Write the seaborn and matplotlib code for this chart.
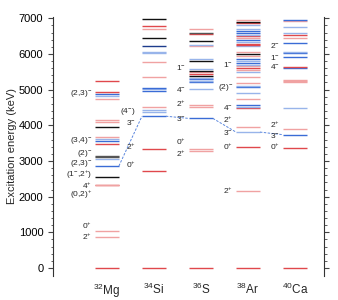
import numpy as np
import pandas as pd
import matplotlib.pyplot as plt
import seaborn as sns

# nuclei on the x axis
nuclei = ['$^{32}$Mg', '$^{34}$Si', '$^{36}$S', '$^{38}$Ar', '$^{40}$Ca']

# level energies (keV) and colour class per nucleus
mg32_E = [0, 878, 1050, 2318, 2328, 2551, 2860, 3046, 3100, 3150, 3480, 3550,
          3630, 3682, 3945, 4100, 4150, 4730, 4830, 4880, 4935, 5243]
mg32_c = ['r', 'lr', 'lr', 'r', 'lr', 'k', 'b', 'lb', 'g', 'g', 'r', 'b',
          'lb', 'lr', 'k', 'lr', 'lr', 'lr', 'lb', 'b', 'r', 'r']

si34_E = [0, 2711, 3330, 4255, 4379, 4420, 4510, 4975, 5011, 5050, 5350, 5785,
          6020, 6050, 6233, 6445, 6693, 6790, 6975]
si34_c = ['r', 'r', 'r', 'b', 'lb', 'lb', 'lr', 'b', 'lb', 'b', 'lr', 'lr',
          'lb', 'lb', 'db', 'k', 'lr', 'r', 'k']

s36_E = [0, 3290, 3346, 4193, 4523, 4575, 5021, 5206, 5243, 5290, 5337, 5384,
         5431, 5496, 5533, 5579, 5795, 5850, 6215, 6245, 6376, 6550, 6580, 6702]
s36_c = ['r', 'lr', 'lr', 'b', 'lr', 'lr', 'lb', 'b', 'lb', 'b', 'lb', 'k',
         'r', 'lr', 'k', 'lb', 'k', 'lb', 'lr', 'lb', 'k', 'r', 'g', 'lr']

ar38_E = [0, 2168, 3384, 3810, 3945, 4487, 4523, 4580, 4730, 4898, 5084, 5112,
          5178, 5365, 5504, 5552, 5600, 5656, 5701, 5757, 5813, 5869, 5953,
          6001, 6065, 6217, 6253, 6289, 6346, 6401, 6449, 6505, 6542, 6598,
          6637, 6710, 6814, 6861, 6906, 6962]
ar38_c = ['r', 'lr', 'r', 'lb', 'lr', 'r', 'lb', 'b', 'lr', 'lb', 'b', 'lb',
          'lr', 'lr', 'lb', 'lr', 'r', 'lr', 'lb', 'b', 'lb', 'b', 'lr',
          'k', 'lr', 'lb', 'r', 'r', 'lb', 'b', 'lr', 'r', 'lb', 'b',
          'b', 'lb', 'lb', 'r', 'k', 'lr']

ca40_E = [0, 3353, 3737, 3904, 4491, 5224, 5249, 5279, 5613, 5629, 5908, 6030,
          6065, 6300, 6442, 6543, 6599, 6768, 6930, 6950]
ca40_c = ['r', 'r', 'b', 'lr', 'lb', 'lr', 'lr', 'lr', 'b', 'r', 'b', 'b',
          'lb', 'b', 'lr', 'r', 'lb', 'lb', 'lr', 'b']

# 3- states joined by the dashed line
three_minus = [2860, 4255, 4193, 3810, 3737]

# spin-parity labels and the energy they sit at
mg32_lab = ['(2,3)$^{-}$', '(3,4)$^{-}$', '(2)$^{-}$', '(2,3)$^{-}$',
            '(1$^{-}$,2$^{+}$)', '4$^{+}$', '(0,2)$^{+}$', '0$^{+}$', '2$^{+}$']
mg32_labE = [4880, 3570, 3200, 2920, 2625, 2315, 2040, 1178, 878]
si34_lab = ['(4$^{-}$)', '3$^{-}$', '2$^{+}$', '0$^{+}$']
si34_labE = [4394, 4085, 3402, 2888]
s36_lab = ['1$^{-}$', '4$^{-}$', '2$^{+}$', '3$^{-}$', '0$^{+}$', '2$^{+}$']
s36_labE = [5618, 4991, 4599, 4197, 3541, 3190]
ar38_lab = ['1$^{-}$', '(2)$^{-}$', '4$^{-}$', '2$^{+}$', '3$^{-}$', '0$^{+}$', '2$^{+}$']
ar38_labE = [5710, 5066, 4506, 4150, 3795, 3384, 2159]
ca40_lab = ['2$^{-}$', '1$^{-}$', '4$^{-}$', '2$^{+}$', '3$^{-}$', '0$^{+}$']
ca40_labE = [6225, 5907, 5645, 4001, 3701, 3402]

palette = {'r': '#e0484c', 'lr': '#f0a2a2', 'b': '#3a6cd6', 'lb': '#98b4ea',
           'k': '#111111', 'g': '#555555', 'db': '#1d3c8c'}

levels = pd.concat([
    pd.DataFrame({'x': i, 'E': E, 'kind': c})
    for i, (E, c) in enumerate([(mg32_E, mg32_c), (si34_E, si34_c), (s36_E, s36_c),
                                (ar38_E, ar38_c), (ca40_E, ca40_c)])
], ignore_index=True)

labels = pd.concat([
    pd.DataFrame({'x': i, 'E': E, 'text': t})
    for i, (t, E) in enumerate([(mg32_lab, mg32_labE), (si34_lab, si34_labE),
                                (s36_lab, s36_labE), (ar38_lab, ar38_labE),
                                (ca40_lab, ca40_labE)])
], ignore_index=True)

sns.set_style('ticks')
plt.rcParams['font.family'] = ['Liberation Sans', 'DejaVu Sans']
plt.rcParams['mathtext.fontset'] = 'custom'
plt.rcParams['mathtext.rm'] = 'Liberation Sans'
plt.rcParams['mathtext.default'] = 'regular'

fig = plt.figure(figsize=(3.38, 3.0), dpi=100)
ax = fig.add_axes([53 / 338, 24 / 300, 271 / 338, 259 / 300])

hw = 0.255
ax.hlines(levels['E'], levels['x'] - hw, levels['x'] + hw,
          colors=levels['kind'].map(palette), lw=1.0)

# dashed line through the 3- states
for i in range(len(three_minus) - 1):
    sns.lineplot(x=[i + hw, i + 1 - hw], y=[three_minus[i], three_minus[i + 1]],
                 ax=ax, color='#5a86de', lw=0.7, linestyle=(0, (2.5, 1.5)))

gaps = [0.06, 0.14, 0.06, 0.06, 0.06]
for _, row in labels.iterrows():
    ax.text(row['x'] - hw - gaps[row['x']], row['E'], row['text'],
            ha='right', va='center', fontsize=6.0)

ax.set_xlim(-1.147, 4.617)
ax.set_ylim(-224, 7036)
ax.set_xticks(range(len(nuclei)))
ax.set_xticklabels(nuclei, fontsize=8.5)
ax.tick_params(axis='x', length=0, pad=4)
ax.set_yticks(np.arange(0, 7001, 1000))
ax.set_yticks(np.arange(0, 7001, 200), minor=True)
ax.tick_params(axis='y', which='both', right=True, labelright=False,
               direction='out', colors='#444444', labelcolor='black', labelsize=8)
ax.tick_params(axis='y', which='major', length=3.5, width=0.8)
ax.tick_params(axis='y', which='minor', length=1.8, width=0.6)
ax.set_ylabel('Excitation energy (keV)', fontsize=8, labelpad=1)

ax.spines['top'].set_visible(False)
ax.spines['bottom'].set_visible(False)
for s in ['left', 'right']:
    ax.spines[s].set_color('#333333')
    ax.spines[s].set_linewidth(0.8)

fig.savefig('out.png', dpi=100)
